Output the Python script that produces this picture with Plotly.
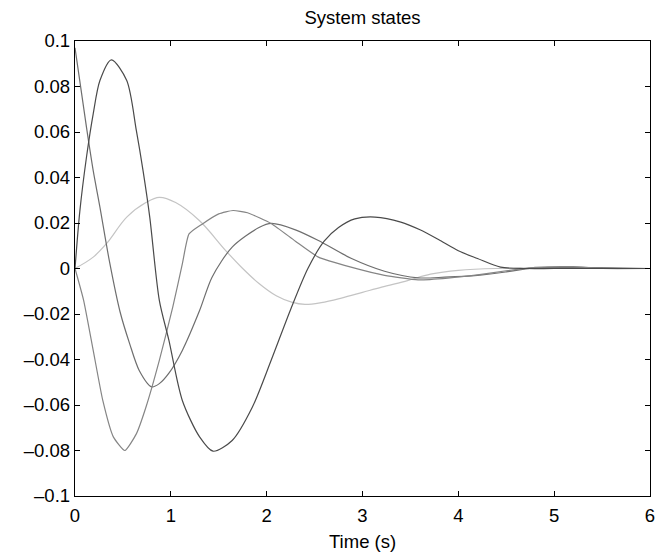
import plotly.graph_objects as go

# ---- data ----
t_dark = [0, 0.05, 0.12, 0.19, 0.26, 0.38, 0.54, 0.64, 0.71, 0.78, 0.88, 0.98, 1.12, 1.30, 1.44,
          1.64, 1.85, 2.05, 2.25, 2.43, 2.60, 2.75, 2.92, 3.13, 3.40, 3.60, 3.81, 4.00, 4.20, 4.44, 4.70, 5.0, 6.0]
y_dark = [0, 0.025, 0.049, 0.068, 0.0826, 0.0917, 0.0826, 0.0607, 0.043, 0.0226, -0.014, -0.0316, -0.058, -0.074, -0.0803,
          -0.0756, -0.061, -0.040, -0.018, 0.0, 0.012, 0.018, 0.0218, 0.0226, 0.0204, 0.017, 0.0123, 0.0078, 0.0044, 0.0006, 0.0, 0.0, 0.0]

t_a = [0, 0.12, 0.19, 0.26, 0.36, 0.47, 0.57, 0.67, 0.80, 0.88, 0.98, 1.12, 1.30, 1.43, 1.64, 1.92, 2.05,
       2.30, 2.54, 2.88, 3.23, 3.58, 3.86, 4.20, 4.50, 4.80, 5.20, 6.0]
y_a = [0.097, 0.062, 0.043, 0.027, 0.003, -0.019, -0.033, -0.0448, -0.052, -0.0506, -0.046, -0.036, -0.0185, -0.0038, 0.0094, 0.018, 0.0198,
       0.017, 0.0123, 0.0045, -0.0012, -0.0041, -0.0038, -0.003, -0.0015, 0.0003, 0.0005, 0.0]

t_b = [0, 0.09, 0.19, 0.29, 0.40, 0.52, 0.64, 0.74, 0.88, 1.02, 1.12, 1.19, 1.33, 1.50, 1.65, 1.80, 2.05,
       2.30, 2.54, 2.88, 3.23, 3.58, 3.89, 4.20, 4.50, 4.80, 5.20, 5.50, 6.0]
y_b = [0, -0.014, -0.036, -0.058, -0.074, -0.080, -0.0727, -0.061, -0.0404, -0.017, 0.002, 0.0152, 0.0196, 0.024, 0.0255, 0.0245, 0.0197,
       0.012, 0.005, 0.0006, -0.003, -0.005, -0.0042, -0.0028, -0.001, 0.0005, 0.0008, 0.0, 0.0]

t_light = [0, 0.19, 0.33, 0.54, 0.74, 0.88, 1.05, 1.30, 1.57, 1.75, 1.92, 2.10, 2.26, 2.40, 2.57, 2.78, 3.00,
           3.20, 3.47, 3.71, 4.00, 4.40, 6.0]
y_light = [0, 0.005, 0.011, 0.0226, 0.029, 0.0313, 0.029, 0.021, 0.008, 0.0, -0.0066, -0.012, -0.0148, -0.0158, -0.0150, -0.0130, -0.0105,
           -0.0082, -0.0053, -0.0025, -0.0008, 0.0, 0.0]

x_ticks = [0, 1, 2, 3, 4, 5, 6]
y_ticks = [0.1, 0.08, 0.06, 0.04, 0.02, 0, -0.02, -0.04, -0.06, -0.08, -0.1]
y_tick_text = ["0.1", "0.08", "0.06", "0.04", "0.02", "0", "\u20130.02", "\u20130.04", "\u20130.06", "\u20130.08", "\u20130.1"]

title_text = "System states"
x_title = "Time (s)"

FONT = "Liberation Sans, Arial, sans-serif"
FS = 18.5

fig = go.Figure()
series = [
    (t_light, y_light, "#c4c4c4", 1.0),
    (t_a, y_a, "#6e6e6e", 0.8),
    (t_b, y_b, "#858585", 0.5),
    (t_dark, y_dark, "#4a4a4a", 0.8),
]
for tx, ty, col, sm in series:
    fig.add_trace(go.Scatter(x=tx, y=ty, mode="lines",
                             line=dict(color=col, width=1.2, shape="spline", smoothing=sm),
                             showlegend=False, hoverinfo="skip", cliponaxis=False))

fig.update_layout(
    width=656, height=558,
    margin=dict(l=75, r=6, t=41, b=62, autoexpand=False),
    paper_bgcolor="white", plot_bgcolor="white",
    font=dict(family=FONT, size=FS, color="black"),
    title=dict(text=title_text, xref="paper", x=0.5, xanchor="center",
               yref="container", y=1 - 18 / 558, yanchor="middle",
               font=dict(family=FONT, size=FS, color="black")),
    annotations=[dict(text=x_title, xref="paper", yref="paper", x=0.5, y=-(541 - 496) / 455,
                      xanchor="center", yanchor="middle", showarrow=False,
                      font=dict(family=FONT, size=FS, color="black"))],
)
fig.update_xaxes(range=[0, 6], tickvals=x_ticks, ticks="inside", ticklen=5, tickwidth=1, tickcolor="black",
                 showline=True, linecolor="black", linewidth=1.2, mirror="ticks", showgrid=False, zeroline=False,
                 automargin=False, ticklabeloverflow="allow", ticklabelstandoff=3,
                 tickfont=dict(family=FONT, size=FS, color="black"))
fig.update_yaxes(range=[-0.1, 0.1], tickvals=y_ticks, ticktext=y_tick_text, ticks="inside", ticklen=5, tickwidth=1,
                 tickcolor="black", showline=True, linecolor="black", linewidth=1.2, mirror="ticks", showgrid=False,
                 zeroline=False, automargin=False, tickfont=dict(family=FONT, size=FS, color="black"))

fig.write_html("out.html", config={"displayModeBar": False, "staticPlot": True},
               post_script="document.body.style.margin='0';document.body.style.padding='0';"
                           "document.body.style.overflow='hidden';")
